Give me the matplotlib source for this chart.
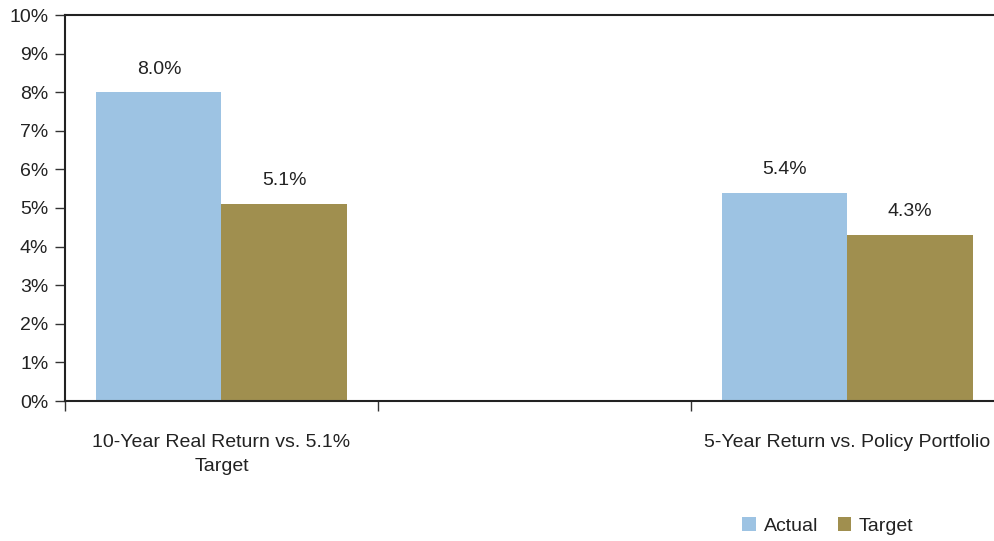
import matplotlib
matplotlib.use("Agg")
import matplotlib.pyplot as plt
import matplotlib.ticker as mticker
import numpy as np

plt.rcParams['font.family'] = ['Liberation Sans Narrow', 'Liberation Sans', 'DejaVu Sans']

categories = ["10-Year Real Return vs. 5.1%\nTarget", "", "5-Year Return vs. Policy Portfolio"]
actual = [8.0, None, 5.4]
target = [5.1, None, 4.3]

BLUE = "#9DC3E3"
GOLD = "#A08F4F"
TEXT = "#222222"

fig = plt.figure(figsize=(9.95, 5.41), dpi=100)
ax = fig.add_axes([65 / 995, 1 - 401 / 541, 939 / 995, 386 / 541])

idx = [i for i, v in enumerate(actual) if v is not None]
x = np.array(idx, dtype=float)
w = 0.4
a_vals = [actual[i] for i in idx]
t_vals = [target[i] for i in idx]
ax.bar(x - w / 2, a_vals, width=w, color=BLUE, label="Actual", zorder=2)
ax.bar(x + w / 2, t_vals, width=w, color=GOLD, label="Target", zorder=2)

for xi, v in zip(x - w / 2, a_vals):
    ax.text(xi, v + 0.38, f"{v:.1f}%", ha="center", va="bottom", fontsize=14, color=TEXT)
for xi, v in zip(x + w / 2, t_vals):
    ax.text(xi, v + 0.38, f"{v:.1f}%", ha="center", va="bottom", fontsize=14, color=TEXT)

ax.set_xlim(-0.5, len(categories) - 0.5)
ax.set_ylim(0, 10)
ax.yaxis.set_major_locator(mticker.MultipleLocator(1))
ax.yaxis.set_major_formatter(mticker.FuncFormatter(lambda v, p: f"{v:.0f}%"))

# category boundaries as major ticks, labels on minor ticks at centres
ax.set_xticks(np.arange(-0.5, len(categories), 1.0))
ax.set_xticklabels([])
ax.set_xticks(np.arange(len(categories)), minor=True)
ax.set_xticklabels(categories, minor=True, fontsize=14, color=TEXT, linespacing=1.55)
ax.tick_params(axis="x", which="minor", length=0, pad=24)
ax.tick_params(axis="x", which="major", length=7, width=1, color="#333333")
ax.tick_params(axis="y", length=7, width=1, color="#333333", labelsize=14, labelcolor=TEXT, pad=5)

for s in ["left", "bottom", "top"]:
    ax.spines[s].set_color("#222222")
    ax.spines[s].set_linewidth(1.5)
ax.spines["right"].set_visible(False)

fig.legend(loc="center", bbox_to_anchor=(828 / 995, 1 - 526 / 541), ncol=2, frameon=False,
           fontsize=14, handlelength=0.7, handleheight=0.7, handletextpad=0.4,
           columnspacing=1.0, labelcolor=TEXT)

fig.savefig("out.png", dpi=100, facecolor="white")
